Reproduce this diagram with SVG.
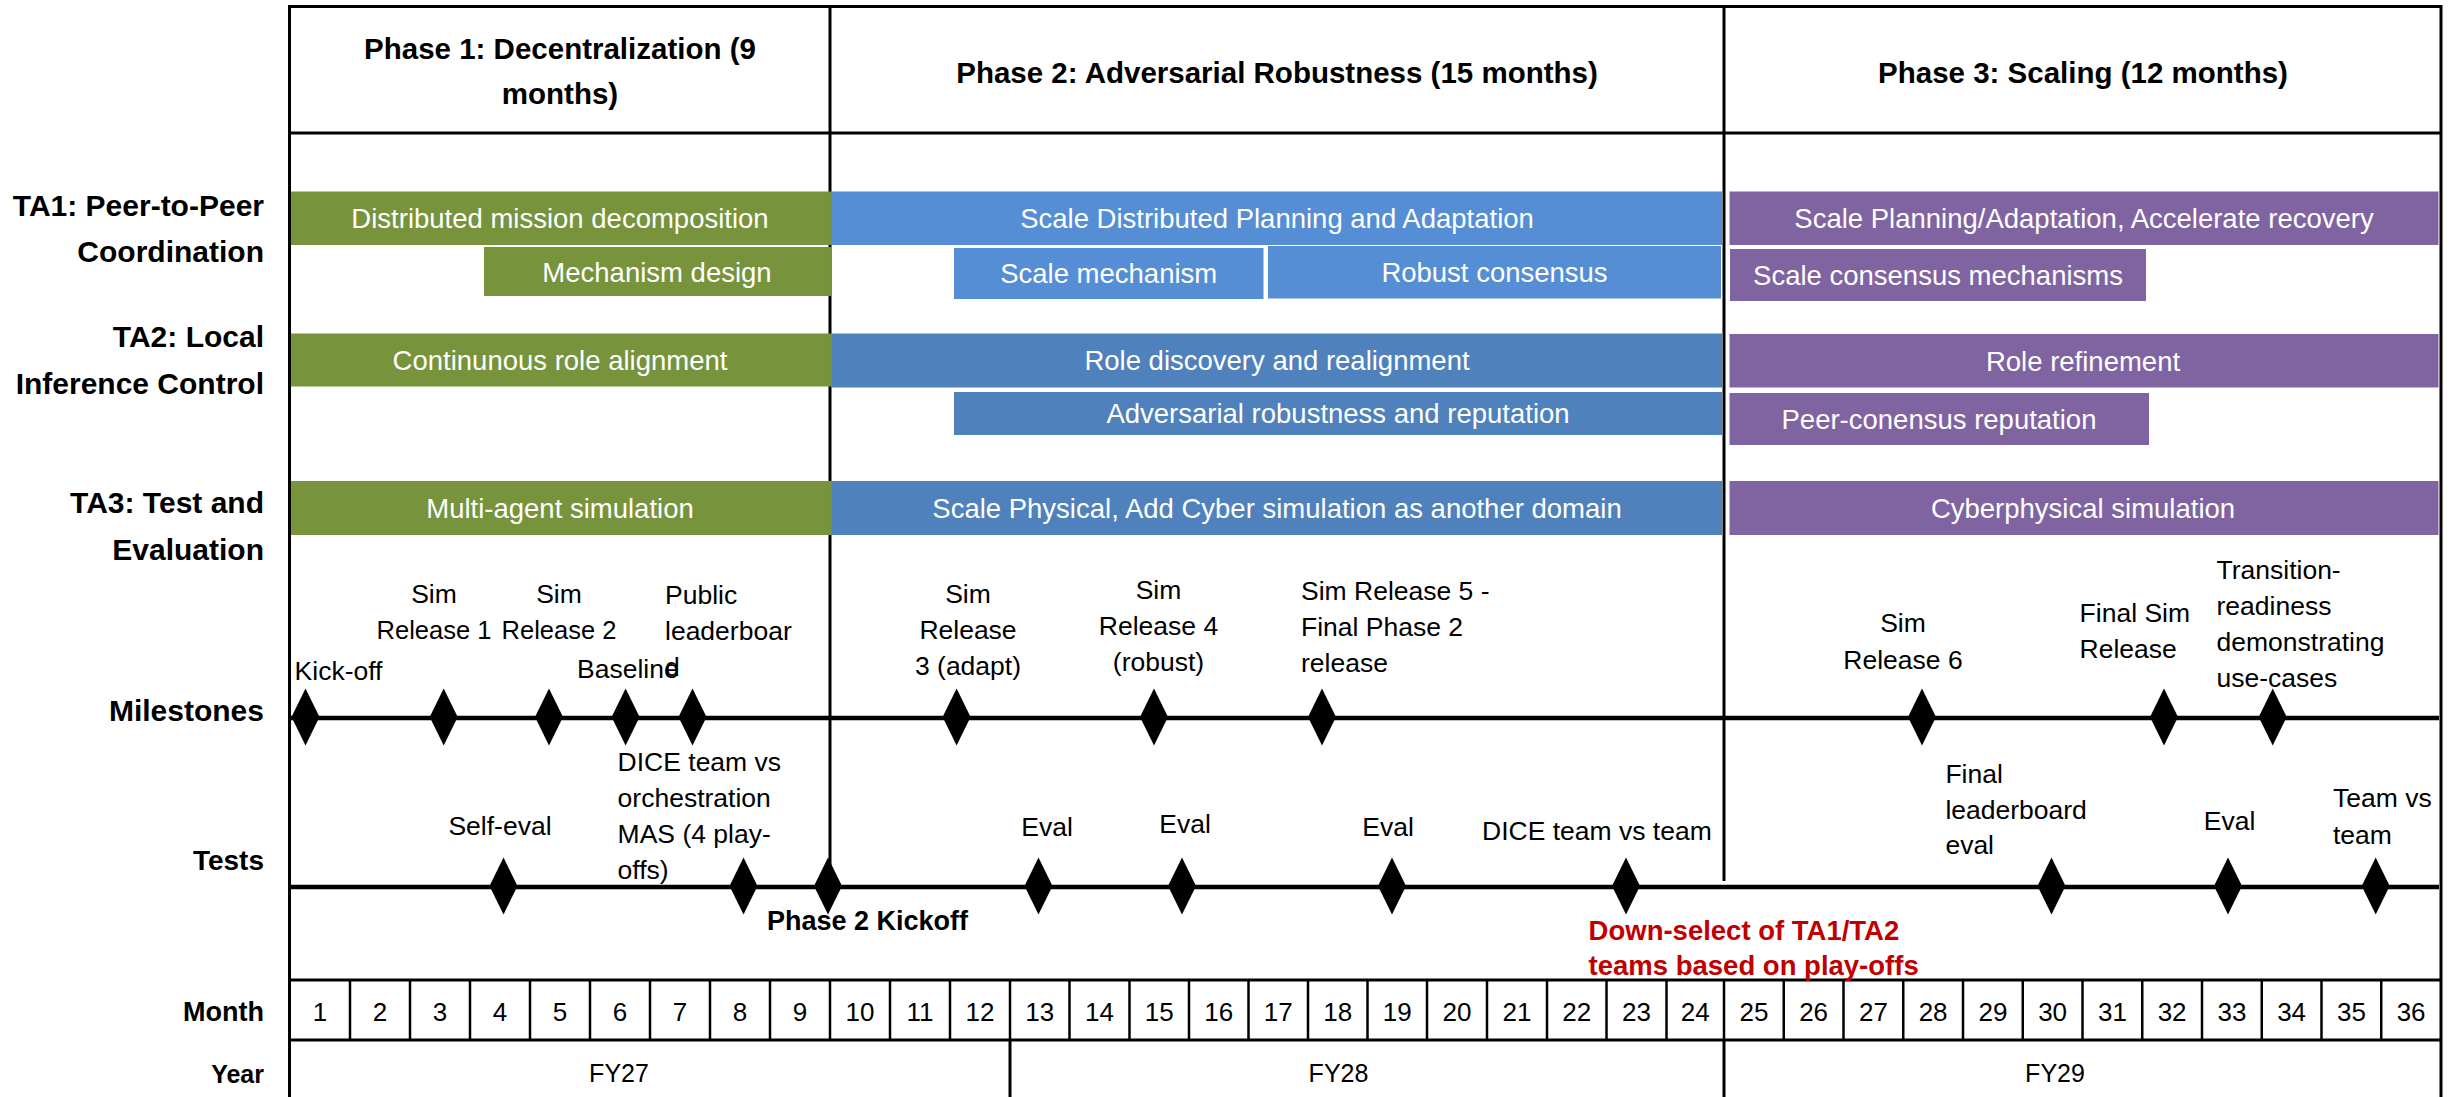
<svg xmlns="http://www.w3.org/2000/svg" width="2456" height="1097" viewBox="0 0 2456 1097">
<style>
text{font-family:"Liberation Sans",Arial,sans-serif;}
.hdr{font-size:29.5px;font-weight:bold;fill:#000;text-anchor:middle;}
.lbl{font-size:30px;font-weight:bold;fill:#000;text-anchor:end;}
.bar{font-size:27.5px;fill:#fff;text-anchor:middle;}
.ann{font-size:26.5px;fill:#000;}
.mid{text-anchor:middle;}
.mon{font-size:26px;fill:#000;text-anchor:middle;}
.yr{font-size:25px;fill:#000;text-anchor:middle;}
.bold{font-size:27px;font-weight:bold;fill:#000;}
.red{font-size:27.5px;font-weight:bold;fill:#C00000;}
.grid{stroke:#000;stroke-width:3;fill:none;}
.thin{stroke:#000;stroke-width:2.5;fill:none;}
.tl{stroke:#000;stroke-width:4.5;fill:none;}
.g{fill:#77933C;}
.lb{fill:#558ED5;}
.db{fill:#4F81BD;}
.pu{fill:#8064A2;}
.dm{fill:#000;}
</style>
<defs>
<polygon id="dia" points="0,-28.5 14,0 0,28.5 -14,0"/>
</defs>
<rect width="2456" height="1097" fill="#fff"/>

<g id="grid">
<path class="grid" d="M289.5,6.5 H2441 M289.5,133 H2441 M289.5,5 V1097 M2441,5 V1097 M830,5 V887 M1724,5 V881"/>
<path class="grid" d="M289.5,980 H2441 M289.5,1040 H2441 M1010,1040 V1097 M1724,1040 V1097"/>
<path class="thin" d="M350,980V1040 M410,980V1040 M470,980V1040 M530,980V1040 M590,980V1040 M650,980V1040 M710,980V1040 M770,980V1040 M830,980V1040 M890,980V1040 M950,980V1040 M1010,980V1040 M1069.5,980V1040 M1129.5,980V1040 M1189,980V1040 M1248.5,980V1040 M1308,980V1040 M1367.5,980V1040 M1427,980V1040 M1487,980V1040 M1547,980V1040 M1606.5,980V1040 M1666.5,980V1040 M1724,980V1040 M1783.75,980V1040 M1843.5,980V1040 M1903.25,980V1040 M1963,980V1040 M2022.75,980V1040 M2082.5,980V1040 M2142.25,980V1040 M2202,980V1040 M2261.75,980V1040 M2321.5,980V1040 M2381.25,980V1040"/>
</g>

<g id="headers">
<text class="hdr" x="560" y="59">Phase 1: Decentralization (9</text>
<text class="hdr" x="560" y="104">months)</text>
<text class="hdr" x="1277" y="83">Phase 2: Adversarial Robustness (15 months)</text>
<text class="hdr" x="2083" y="83">Phase 3: Scaling (12 months)</text>
</g>

<g id="row-labels">
<text class="lbl" x="264" y="216">TA1: Peer-to-Peer</text>
<text class="lbl" x="264" y="262">Coordination</text>
<text class="lbl" x="264" y="347">TA2: Local</text>
<text class="lbl" x="264" y="393.5">Inference Control</text>
<text class="lbl" x="264" y="513">TA3: Test and</text>
<text class="lbl" x="264" y="560">Evaluation</text>
<text class="lbl" x="264" y="720.5">Milestones</text>
<text class="lbl" x="264" y="869.7" style="font-size:28px">Tests</text>
<text class="lbl" x="264" y="1021" style="font-size:27px">Month</text>
<text class="lbl" x="264" y="1082.5" style="font-size:25px">Year</text>
</g>

<g id="bars">
<g id="bar-distributed-mission"><rect class="g" x="291" y="191.5" width="540" height="53.5"/><text class="bar" x="560" y="228">Distributed mission decomposition</text></g>
<g id="bar-mechanism-design"><rect class="g" x="484" y="247" width="347" height="49"/><text class="bar" x="657" y="281.5">Mechanism design</text></g>
<g id="bar-continuous-role"><rect class="g" x="291" y="333.5" width="540" height="53"/><text class="bar" x="560" y="369.8">Continunous role alignment</text></g>
<g id="bar-multi-agent"><rect class="g" x="291" y="481" width="540" height="54"/><text class="bar" x="560" y="517.8">Multi-agent simulation</text></g>

<g id="bar-scale-distributed"><rect class="lb" x="832" y="191.5" width="890" height="53.5"/><text class="bar" x="1277" y="228">Scale Distributed Planning and Adaptation</text></g>
<g id="bar-scale-mechanism"><rect class="lb" x="954" y="248" width="309.5" height="51"/><text class="bar" x="1108.7" y="283.3">Scale mechanism</text></g>
<g id="bar-robust-consensus"><rect class="lb" x="1268" y="246" width="453" height="52.5"/><text class="bar" x="1494.5" y="282">Robust consensus</text></g>
<g id="bar-role-discovery"><rect class="db" x="832" y="333.5" width="890" height="54"/><text class="bar" x="1277" y="370.3">Role discovery and realignment</text></g>
<g id="bar-adversarial"><rect class="db" x="954" y="392" width="768" height="43"/><text class="bar" x="1338" y="423.3">Adversarial robustness and reputation</text></g>
<g id="bar-scale-physical"><rect class="db" x="832" y="481" width="890" height="54"/><text class="bar" x="1277" y="517.8">Scale Physical, Add Cyber simulation as another domain</text></g>

<g id="bar-scale-planning"><rect class="pu" x="1729.5" y="191.5" width="709" height="53.5"/><text class="bar" x="2084" y="228">Scale Planning/Adaptation, Accelerate recovery</text></g>
<g id="bar-scale-consensus"><rect class="pu" x="1730" y="249" width="416" height="52"/><text class="bar" x="1938" y="284.8">Scale consensus mechanisms</text></g>
<g id="bar-role-refinement"><rect class="pu" x="1729.5" y="334" width="709" height="53.5"/><text class="bar" x="2083" y="370.6">Role refinement</text></g>
<g id="bar-peer-consensus"><rect class="pu" x="1729.5" y="393" width="419.5" height="52"/><text class="bar" x="1939" y="428.8">Peer-conensus reputation</text></g>
<g id="bar-cyberphysical"><rect class="pu" x="1729.5" y="481" width="709" height="54"/><text class="bar" x="2083" y="517.8">Cyberphysical simulation</text></g>
</g>

<g id="connectors">
<path class="tl" d="M289.5,718 H2439"/>
<path class="tl" d="M289.5,887 H2439"/>
</g>

<g id="milestones">
<g id="m-kickoff"><use href="#dia" class="dm" x="305.5" y="717"/><text class="ann" x="294.6" y="680">Kick-off</text></g>
<g id="m-sim1"><use href="#dia" class="dm" x="443.7" y="717"/><text class="ann mid" x="434" y="603">Sim</text><text class="ann mid" x="434" y="639" style="font-size:25.5px">Release 1</text></g>
<g id="m-sim2"><use href="#dia" class="dm" x="549" y="717"/><text class="ann mid" x="559" y="603">Sim</text><text class="ann mid" x="559" y="639" style="font-size:25.5px">Release 2</text></g>
<g id="m-baseline"><use href="#dia" class="dm" x="625.6" y="717"/><text class="ann" x="577" y="678">Baseline</text></g>
<g id="m-leaderboard"><use href="#dia" class="dm" x="692.5" y="717"/><text class="ann" x="665" y="604">Public</text><text class="ann" x="665" y="640">leaderboar</text><text class="ann" x="665" y="676">d</text></g>
<g id="m-sim3"><use href="#dia" class="dm" x="956.6" y="717"/><text class="ann mid" x="968" y="603">Sim</text><text class="ann mid" x="968" y="639">Release</text><text class="ann mid" x="968" y="675">3 (adapt)</text></g>
<g id="m-sim4"><use href="#dia" class="dm" x="1154" y="717"/><text class="ann mid" x="1158.5" y="599">Sim</text><text class="ann mid" x="1158.5" y="635">Release 4</text><text class="ann mid" x="1158.5" y="671">(robust)</text></g>
<g id="m-sim5"><use href="#dia" class="dm" x="1322" y="717"/><text class="ann" x="1301" y="600">Sim Release 5 -</text><text class="ann" x="1301" y="636">Final Phase 2</text><text class="ann" x="1301" y="672">release</text></g>
<g id="m-sim6"><use href="#dia" class="dm" x="1922" y="717"/><text class="ann mid" x="1903" y="632">Sim</text><text class="ann mid" x="1903" y="669">Release 6</text></g>
<g id="m-finalsim"><use href="#dia" class="dm" x="2164" y="717"/><text class="ann" x="2079.6" y="622">Final Sim</text><text class="ann" x="2079.6" y="658">Release</text></g>
<g id="m-transition"><use href="#dia" class="dm" x="2272.7" y="717"/><text class="ann" x="2216.5" y="579">Transition-</text><text class="ann" x="2216.5" y="615">readiness</text><text class="ann" x="2216.5" y="651">demonstrating</text><text class="ann" x="2216.5" y="687">use-cases</text></g>
</g>

<g id="tests">
<g id="t-selfeval"><use href="#dia" class="dm" x="503.5" y="886"/><text class="ann mid" x="500" y="835">Self-eval</text></g>
<g id="t-dice-orch"><use href="#dia" class="dm" x="743.5" y="886"/><text class="ann" x="617.6" y="771">DICE team vs</text><text class="ann" x="617.6" y="807">orchestration</text><text class="ann" x="617.6" y="843">MAS (4 play-</text><text class="ann" x="617.6" y="879">offs)</text></g>
<g id="t-phase2"><use href="#dia" class="dm" x="828" y="886"/><text class="bold" x="767" y="930">Phase 2 Kickoff</text></g>
<g id="t-eval1"><use href="#dia" class="dm" x="1038.5" y="886"/><text class="ann mid" x="1047" y="836">Eval</text></g>
<g id="t-eval2"><use href="#dia" class="dm" x="1182" y="886"/><text class="ann mid" x="1185" y="833">Eval</text></g>
<g id="t-eval3"><use href="#dia" class="dm" x="1392" y="886"/><text class="ann mid" x="1388" y="836">Eval</text></g>
<g id="t-dice-team"><use href="#dia" class="dm" x="1626" y="886"/><text class="ann" x="1482" y="839.5">DICE team vs team</text><text class="red" x="1588.6" y="939.5">Down-select of TA1/TA2</text><text class="red" x="1588.6" y="975">teams based on play-offs</text></g>
<g id="t-final-lb"><use href="#dia" class="dm" x="2051.5" y="886"/><text class="ann" x="1945.4" y="783">Final</text><text class="ann" x="1945.4" y="819">leaderboard</text><text class="ann" x="1945.4" y="854">eval</text></g>
<g id="t-eval4"><use href="#dia" class="dm" x="2228" y="886"/><text class="ann mid" x="2229.5" y="829.5">Eval</text></g>
<g id="t-teamvsteam"><use href="#dia" class="dm" x="2375.7" y="886"/><text class="ann" x="2333" y="807">Team vs</text><text class="ann" x="2333" y="843.5">team</text></g>
</g>

<g id="months">
<text class="mon" x="320" y="1021">1</text><text class="mon" x="380" y="1021">2</text><text class="mon" x="440" y="1021">3</text><text class="mon" x="500" y="1021">4</text><text class="mon" x="560" y="1021">5</text><text class="mon" x="620" y="1021">6</text><text class="mon" x="680" y="1021">7</text><text class="mon" x="740" y="1021">8</text><text class="mon" x="800" y="1021">9</text>
<text class="mon" x="860" y="1021">10</text><text class="mon" x="920" y="1021">11</text><text class="mon" x="980" y="1021">12</text><text class="mon" x="1039.8" y="1021">13</text><text class="mon" x="1099.5" y="1021">14</text><text class="mon" x="1159.3" y="1021">15</text><text class="mon" x="1218.8" y="1021">16</text><text class="mon" x="1278.3" y="1021">17</text><text class="mon" x="1337.8" y="1021">18</text><text class="mon" x="1397.3" y="1021">19</text><text class="mon" x="1457" y="1021">20</text><text class="mon" x="1517" y="1021">21</text><text class="mon" x="1576.8" y="1021">22</text><text class="mon" x="1636.5" y="1021">23</text><text class="mon" x="1695.3" y="1021">24</text>
<text class="mon" x="1753.9" y="1021">25</text><text class="mon" x="1813.6" y="1021">26</text><text class="mon" x="1873.4" y="1021">27</text><text class="mon" x="1933.1" y="1021">28</text><text class="mon" x="1992.9" y="1021">29</text><text class="mon" x="2052.6" y="1021">30</text><text class="mon" x="2112.4" y="1021">31</text><text class="mon" x="2172.1" y="1021">32</text><text class="mon" x="2231.9" y="1021">33</text><text class="mon" x="2291.6" y="1021">34</text><text class="mon" x="2351.4" y="1021">35</text><text class="mon" x="2411.1" y="1021">36</text>
</g>

<g id="years">
<text class="yr" x="619" y="1081.5">FY27</text>
<text class="yr" x="1338.5" y="1081.5">FY28</text>
<text class="yr" x="2055" y="1081.5">FY29</text>
</g>
</svg>
